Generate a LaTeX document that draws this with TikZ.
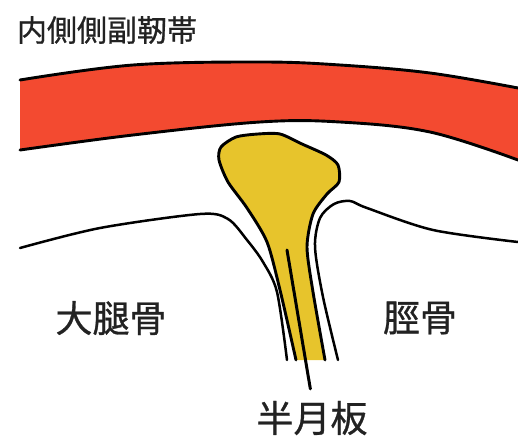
\documentclass[tikz,border=0pt]{standalone}
\usepackage{fontspec}
\usepackage{tikz}
\usetikzlibrary{positioning}
\newfontfamily\jpfont[FakeBold=0.8]{Noto Sans CJK JP}
\definecolor{ligred}{RGB}{243,74,48}
\definecolor{menyellow}{RGB}{231,196,44}
\definecolor{labelgray}{RGB}{34,34,34}
\tikzset{
  outline/.style={line width=2.9pt, color=black, line join=round, line cap=round},
  boneline/.style={line width=2.5pt, color=black, line cap=round},
  pointer/.style={line width=3pt, color=black, line cap=round},
  bigtag/.style={font=\jpfont\fontsize{37}{37}\selectfont, text=labelgray, inner sep=2pt},
  toptag/.style={font=\jpfont\fontsize{30}{30}\selectfont, text=labelgray, inner sep=2pt}
}

\begin{document}
\begin{tikzpicture}[x=1pt, y=-1pt]
  \useasboundingbox (0,0) rectangle (518,444);

  % collateral ligament band
  \fill[ligred] plot[smooth, tension=0.6] coordinates {(20,80) (133,65) (260,62) (340,65) (430,73) (518,88)}
    -- plot[smooth, tension=0.6] coordinates {(518,160) (430,132) (340,122) (260,122) (133,135) (20,150)} -- cycle;
  \draw[outline] plot[smooth, tension=0.6] coordinates {(20,80) (133,65) (260,62) (340,65) (430,73) (518,88)};
  \draw[outline] plot[smooth, tension=0.6] coordinates {(20,150) (133,135) (260,122) (340,122) (430,132) (518,160)};

  % femur and tibia surfaces
  \draw[boneline] plot[smooth, tension=0.5] coordinates {(20,248) (100,228) (200,214) (228,219) (247,240) (263,262) (277,292) (287,360)};
  \draw[boneline] plot[smooth, tension=0.5] coordinates {(518,242) (433,230) (367,208) (350,201) (334,204) (320,218) (315,247) (323,297) (338,360)};

  % meniscus
  \fill[menyellow] plot[smooth, tension=0.45] coordinates {(296,360) (280,290) (267,242) (247,208) (228,182) (219,160) (221,147) (236,137) (258,134) (280,134) (302,144) (326,155) (338,165) (339,182) (327,194) (313,214) (307,247) (313,292) (325,360)} -- cycle;
  \draw[outline] plot[smooth, tension=0.45] coordinates {(296,360) (280,290) (267,242) (247,208) (228,182) (219,160) (221,147) (236,137) (258,134) (280,134) (302,144) (326,155) (338,165) (339,182) (327,194) (313,214) (307,247) (313,292) (325,360)};

  % labels
  \node[toptag] (mcl) at (107,30) {内側側副靭帯};
  \node[bigtag] (femur) at (111,318) {大腿骨};
  \node[bigtag] (tibia) at (420,318) {脛骨};
  \node[bigtag] (men) at (312,418) {半月板};

  \coordinate (mtip) at (287,250);
  \draw[pointer, shorten >=10pt] (mtip) -- (men.north);
\end{tikzpicture}
\end{document}
